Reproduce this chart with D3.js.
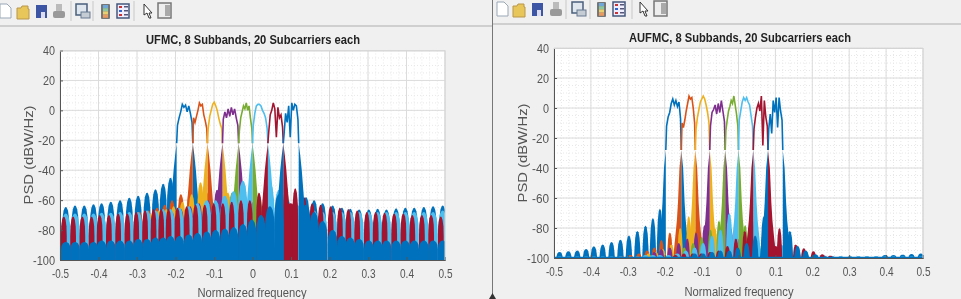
<!DOCTYPE html>
<html>
<head>
<meta charset="utf-8">
<script src="https://cdn.jsdelivr.net/npm/d3@7"></script>
<style>
  html, body { margin: 0; padding: 0; background: #f0f0f0; overflow: hidden; }
  svg { display: block; font-family: "Liberation Sans", Arial, sans-serif; filter: blur(0.4px); }
</style>
</head>
<body>
<div id="chart"></div>
<script>
const n = null;

const xTicks = [-0.5, -0.4, -0.3, -0.2, -0.1, 0, 0.1, 0.2, 0.3, 0.4, 0.5];
const yTicks = [40, 20, 0, -20, -40, -60, -80, -100];

// subband edges, shared by both plots
const subbandEdges = [-0.197, -0.155, -0.117, -0.078, -0.036, 0, 0.04, 0.08, 0.12];
const passFractions = [0.05, 0.15, 0.25, 0.35, 0.45, 0.55, 0.65, 0.75, 0.85, 0.95];

// frequencies of the sidelobe peaks
const lobeFreqs = [
  -0.485, -0.461, -0.437, -0.413, -0.392, -0.368, -0.344, -0.320, -0.297, -0.274,
  -0.252, -0.232, -0.213, -0.190, -0.166, -0.143, -0.119, -0.096, -0.072, -0.049,
  -0.025, -0.002, 0.022, 0.045, 0.069, 0.092, 0.116, 0.139, 0.160, 0.182,
  0.208, 0.232, 0.254, 0.277, 0.302, 0.325, 0.348, 0.373, 0.397, 0.420,
  0.445, 0.469, 0.494
];
const lobeShifts = [0, 0.004, 0.008, 0.004, -0.004, 0, -0.005, 0];
const lobeWidthsA = [0.0095, 0.0085, 0.0085, 0.0085, 0.0085, 0.012, 0.0075, 0.0125];
const lobeWidthsB = [0.009, 0.0075, 0.0075, 0.0075, 0.0075, 0.0095, 0.0075, 0.009];

// UFMC passband, one row per subband
const passA = [
  [-10, -5, -1, 4, 2, 3.5, -1, 3, -2, -8],
  [-5, -8, -4, 0, 5, 3, 4, -3, -7, -12],
  [-12, -4, 0, 4, 5.5, 3, 0, -5, -9, -12],
  [-6, -1, -5, 1, -4, 2, -3, 1, -5, -10],
  [-14, -5, -1, 3, 1, 5, 0, 3, -5, -12],
  [-10, -2, 3, 4, 4, 3, 0, -2, -5, -12],
  [-15, -3, 0, 5, 1, -18, 2, -5, -3, -11],
  [-16, -2, -8, 3, -18, 5, 0, 4, 3, -6]
];

// UFMC sidelobe peaks, one row per subband
const lobesA = [
  [-64.5, -63.6, -63.5, -62.7, -62, -61, -60, -58.4, -57, -55,
   -52.7, -49, -45, n, n, -60, -61, -62, -63, -64,
   -65, -66, -66, -67, -67, -66, -64, -58, -60, -62,
   -63.5, -65, -65.8, -66.2, -66.2, -65.8, -66.2, -65.5, -65, -65,
   -64.6, -64, -63.5],
  [n, n, n, n, n, n, n, n, -68, -67,
   -65, -63, -60, -56, -52, n, -55, -60, -64, -66,
   n, n, n, n, n, n, n, n, n, n,
   n, n, n, n, n, n, n, n, n, n,
   n, n, n],
  [n, n, n, n, n, n, n, n, n, -69,
   -67, -66, -64, -61, -56, -48, n, n, -55, -60,
   -64, n, n, n, n, n, n, n, n, n,
   n, n, n, n, n, n, n, n, n, n,
   n, n, n],
  [n, n, n, n, n, n, n, n, n, n,
   n, n, -68, -66, -64, -62, -60, -53, n, n,
   -56, -61, -64, -66, n, n, n, n, n, n,
   n, n, n, n, n, n, n, n, n, n,
   n, n, n],
  [n, n, n, n, n, n, n, n, n, n,
   n, n, n, n, n, n, -67, -65, -62, -55,
   n, n, -58, -64, -67, n, n, n, n, n,
   n, n, n, n, n, n, n, n, n, n,
   n, n, n],
  [-69, -69, -69, -69, -68.5, -68.5, -68, -68, -68, -67,
   -67, -66, -66, -65, -64, -62, -60, -60, -57, -54,
   -47, n, n, -48, -53, -60, -63, -66, -67, -68,
   -68, -68, -68, -68, -68, -68, -68, -68, -68, -68,
   -68, -68, -67],
  [-71, -71, -71, -71, -70, -70, -69, -69, -68, -67,
   -66, -66, -66, -65, -64, -63, -63, -62, -62, -61,
   -60, -60, -55, n, n, -50, -52, -58, -62, -63,
   -64, -65, -66, -67, -68, -68, -68.5, -69, -69, -70,
   -70, -70, -71],
  [-88, -88, -88, -88, -87, -87, -87, -87, -86, -86,
   -85, -85, -84, -84, -83, -82, -81, -80, -79, -78,
   -76, -73, -70, -64, -56, n, n, -63, -68, -74,
   -80, -84, -85, -86, -87, -87, -87, -87, -87, -87,
   -87, -87, -87]
];

// AUFMC passband, one row per subband
const passB = [
  [-12, -6, -3, 3, 6, 2, 5, 1, 4, -7],
  [-10, -13, -8, -2, 3, 8, 6, 7, 0, -10],
  [-14, -6, -1, 4, 6, 8, 6, 2, -3, -10],
  [-12, -3, -1, 2, -4, 3, -3, 5, -2, -9],
  [-15, -8, -2, 1, 5, 3, 8, 2, -4, -12],
  [-8, -2, 4, 7, 5, 7, 4, 2, -5, -12],
  [-14, -6, 0, 3, -2, 8, -25, 5, -6, -12],
  [-14, -4, -17, 5, -3, 7, -13, 7, -2, -8]
];

// AUFMC sidelobe peaks, one row per subband
const lobesB = [
  [-96, -95.5, -95, -94, -92.2, -91, -89.3, -87.8, -85, -82,
   -78.4, -73.3, -67, n, n, -83, -86, -88, -89, -90,
   -91, -92, -93, -93, -94, -94, -95, -95, -96, -97,
   -98, -98.5, -99, -99, -99, -99, -99, -99, -98, -98,
   -97.8, -97.4, -97],
  [n, n, n, n, n, n, n, -99, -98, -97,
   -95, -93, -88, -83, -77, n, -82, -88, -92, -94,
   -96, n, n, n, n, n, n, n, n, n,
   n, n, n, n, n, n, n, n, n, n,
   n, n, n],
  [n, n, n, n, n, n, n, n, n, n,
   -97, -96, -94, -91, -80, -72, n, n, -80, -88,
   -92, -95, n, n, n, n, n, n, n, n,
   n, n, n, n, n, n, n, n, n, n,
   n, n, n],
  [n, n, n, n, n, n, n, n, n, n,
   n, -96, -94, -93, -90, -87, -83, -78, n, n,
   -80, -87, -92, -95, n, n, n, n, n, n,
   n, n, n, n, n, n, n, n, n, n,
   n, n, n],
  [n, n, n, n, n, n, n, n, n, n,
   n, n, n, n, n, -93, -90, -86, -81, -75,
   n, n, -78, -85, -90, -94, n, n, n, n,
   n, n, n, n, n, n, n, n, n, n,
   n, n, n],
  [-99, -99, -99, -99, -99, -99, -99, -99, -99, -99,
   -98, -98, -98, -98, -97, -95, -93, -90, -85, -81,
   -70, n, n, -74, -82, -87, -91, -94, -96, -97,
   -99, -99, -99, -99, -99, -99, -99, -99, -99, -99,
   -99, -99, -99],
  [n, n, n, n, n, n, n, n, n, n,
   n, n, n, n, -98, -97, -97, -97, -96, -95,
   -92, -87, -82, n, n, -76, -80, -87, -91, -93.5,
   -95.5, -97.5, -98.5, n, n, n, n, n, n, n,
   n, n, n],
  [n, n, n, n, n, n, n, n, n, n,
   n, n, n, n, n, n, -97, -97, -96, -95,
   -95, -93, -90, -85, -72, n, n, -82, -92, -95,
   -97.5, n, n, n, n, n, n, n, n, n,
   n, n, n]
];

// skirts of each subband: level and distance from the band edge
const skirtPsdA = [-22, -30, -40, -60, -80, -100];
const skirtOffA = [0.0005, 0.004, 0.008, 0.014, 0.02, 0.026];
const skirtPsdB = [-28, -40, -63, -75, -90, -100];
const skirtOffB = [0.0005, 0.005, 0.009, 0.012, 0.018, 0.022];

const colors = ["#0072BD", "#D95319", "#EDB120", "#7E2F8E", "#77AC30", "#4DBEEE", "#A2142F", "#0072BD"];

// half a lobe from its foot to its tip, as fractions of lobe width and height
const lobeSideA = [[-1, 0], [-1, 0.55], [-0.9, 0.78], [-0.6, 0.93], [-0.25, 0.99], [0, 1]];
const lobeSideB = [[-1, 0], [-0.85, 0.4], [-0.65, 0.75], [-0.35, 0.95], [0, 1]];

const width = 961, height = 299;

const svg = d3.select("#chart")
  .append("svg")
  .attr("width", width)
  .attr("height", height);

svg.append("rect").attr("width", width).attr("height", height).attr("fill", "#f0f0f0");

// Toolbars
function drawToolbar(xs, seps, top, lineY) {
  const g = svg.append("g");
  g.append("line").attr("x1", xs.x0).attr("x2", xs.x1).attr("y1", lineY).attr("y2", lineY)
    .attr("stroke", "#c4c4c4").attr("stroke-width", 1.5);
  seps.forEach(s => g.append("line").attr("x1", s).attr("x2", s).attr("y1", top).attr("y2", top + 20)
    .attr("stroke", "#c8c8c8"));
  const t = top + 3;
  // new file
  g.append("path").attr("d", `M${xs.file} ${t}h7l4 4v10h-11z`).attr("fill", "#fff").attr("stroke", "#9aa7b5");
  // open folder
  g.append("path").attr("d", `M${xs.folder} ${t + 4}h4l1 -2h6v3h1v10h-12z`).attr("fill", "#e8c65a").attr("stroke", "#b8964a");
  // save
  g.append("rect").attr("x", xs.save).attr("y", t + 1).attr("width", 11).attr("height", 13).attr("fill", "#3c55a5");
  g.append("rect").attr("x", xs.save + 5).attr("y", t + 8).attr("width", 4).attr("height", 6).attr("fill", "#dde");
  // print
  g.append("rect").attr("x", xs.print + 3).attr("y", t).attr("width", 6).attr("height", 7).attr("fill", "#bbb");
  g.append("rect").attr("x", xs.print).attr("y", t + 7).attr("width", 12).attr("height", 7).attr("rx", 2).attr("fill", "#999");
  // linked figure
  g.append("rect").attr("x", xs.link).attr("y", t).attr("width", 11).attr("height", 11).attr("fill", "#dfe6ee").attr("stroke", "#4a5f7c").attr("stroke-width", 1.5);
  g.append("rect").attr("x", xs.link + 5).attr("y", t + 8).attr("width", 9).attr("height", 6).attr("fill", "#c5ccd4").attr("stroke", "#66788f");
  // colorbar
  const grad = ["#6fa7d8", "#8dc7a0", "#e8d070", "#e89a60"];
  g.append("rect").attr("x", xs.bar).attr("y", t).attr("width", 9).attr("height", 15).attr("rx", 1).attr("fill", "#777");
  grad.forEach((c, i) => g.append("rect").attr("x", xs.bar + 2).attr("y", t + 1 + i * 3.2).attr("width", 5).attr("height", 3.2).attr("fill", c));
  // legend
  g.append("rect").attr("x", xs.legend).attr("y", t).attr("width", 12).attr("height", 14).attr("fill", "#eef").attr("stroke", "#45577c").attr("stroke-width", 1.5);
  [[2, "#c33"], [6, "#36c"], [10, "#c33"]].forEach(d => g.append("rect").attr("x", xs.legend + 2).attr("y", t + d[0]).attr("width", 3).attr("height", 2).attr("fill", d[1]));
  [2, 6, 10].forEach(d => g.append("rect").attr("x", xs.legend + 7).attr("y", t + d).attr("width", 4).attr("height", 1.5).attr("fill", "#557"));
  // cursor
  g.append("path").attr("d", `M${xs.cursor} ${t}l8 9h-3l2 5h-2l-2 -5l-3 2z`).attr("fill", "#fff").attr("stroke", "#333");
  // property pane
  g.append("rect").attr("x", xs.pane).attr("y", t - 1).attr("width", 13).attr("height", 15).attr("fill", "#eee").attr("stroke", "#777").attr("stroke-width", 1.5);
  g.append("rect").attr("x", xs.pane + 7).attr("y", t + 1).attr("width", 5).attr("height", 11).attr("fill", "#aaa");
}

drawToolbar({ x0: 0, x1: 492, file: 0, folder: 17, save: 36, print: 53, link: 76, bar: 101, legend: 117, cursor: 144, pane: 158 },
  [71, 93, 134], 1, 26);
drawToolbar({ x0: 493, x1: 961, file: 497, folder: 513, save: 532, print: 550, link: 572, bar: 597, legend: 613, cursor: 640, pane: 654 },
  [566, 590, 632], -1, 24);

// window border between the two figures
svg.append("line").attr("x1", 492.5).attr("x2", 492.5).attr("y1", 0).attr("y2", 299).attr("stroke", "#777");
svg.append("path").attr("d", "M489 299l3.5 -6l3.5 6z").attr("fill", "#333");

function drawPanel(cfg, id) {
  const x = d3.scaleLinear().domain([-0.5, 0.5]).range([cfg.left, cfg.right]);
  const y = d3.scaleLinear().domain([-100, 40]).range([cfg.bottom, cfg.top]);
  const g = svg.append("g");

  g.append("rect")
    .attr("x", cfg.left).attr("y", cfg.top)
    .attr("width", cfg.right - cfg.left).attr("height", cfg.bottom - cfg.top)
    .attr("fill", "#fff");

  // Grid
  d3.range(-0.5, 0.5001, 0.02).forEach(f => g.append("line")
    .attr("x1", x(f)).attr("x2", x(f)).attr("y1", cfg.top).attr("y2", cfg.bottom)
    .attr("stroke", "#e8e8e8").attr("stroke-dasharray", "1,2"));
  d3.range(-100, 40.01, 5).forEach(v => g.append("line")
    .attr("x1", cfg.left).attr("x2", cfg.right).attr("y1", y(v)).attr("y2", y(v))
    .attr("stroke", "#e8e8e8").attr("stroke-dasharray", "1,2"));
  xTicks.forEach(f => g.append("line")
    .attr("x1", x(f)).attr("x2", x(f)).attr("y1", cfg.top).attr("y2", cfg.bottom)
    .attr("stroke", "#dcdcdc"));
  yTicks.forEach(v => g.append("line")
    .attr("x1", cfg.left).attr("x2", cfg.right).attr("y1", y(v)).attr("y2", y(v))
    .attr("stroke", "#dcdcdc"));

  svg.append("clipPath").attr("id", id)
    .append("rect")
    .attr("x", cfg.left).attr("y", cfg.top)
    .attr("width", cfg.right - cfg.left).attr("height", cfg.bottom - cfg.top + 1);

  const plot = g.append("g").attr("clip-path", `url(#${id})`);

  const lobeShape = cfg.lobeSide.concat(cfg.lobeSide.slice(0, -1).reverse().map(s => [-s[0], s[1]]));
  const lobe = (f, p, w) => d3.line()
    .x(s => x(f + s[0] * w))
    .y(s => y(-100 + s[1] * (p + 100)))(lobeShape);

  colors.forEach((color, k) => {
    const sub = plot.append("g");

    // sidelobes
    cfg.extra.filter(e => e.sub === k).forEach(e => sub.append("path")
      .attr("d", lobe(e.f, e.psd, e.w)).attr("fill", color));
    cfg.lobes[k].forEach((p, i) => {
      if (p === null) return;
      sub.append("path")
        .attr("d", lobe(lobeFreqs[i] + lobeShifts[k], p, cfg.widths[k]))
        .attr("fill", color);
    });

    // skirts on both band edges
    const lo = subbandEdges[k], hi = subbandEdges[k + 1];
    [[lo, -1], [hi, 1]].forEach(([edge, dir]) => {
      const pts = cfg.skirtPsd.map((p, i) => [edge + dir * cfg.skirtOff[i], p]);
      const poly = [[edge, -100], [edge, cfg.skirtPsd[0]]].concat(pts.slice(1));
      sub.append("path")
        .attr("d", d3.line().x(d => x(d[0])).y(d => y(d[1]))(poly) + "Z")
        .attr("fill", color);
    });

    // passband trace
    const trace = [[lo, cfg.skirtPsd[0]]]
      .concat(cfg.pass[k].map((p, i) => [lo + passFractions[i] * (hi - lo), p]))
      .concat([[hi, cfg.skirtPsd[0]]]);
    sub.append("path")
      .attr("d", d3.line().x(d => x(d[0])).y(d => y(d[1]))(trace))
      .attr("fill", "none")
      .attr("stroke", color)
      .attr("stroke-width", 1.6);
  });

  if (cfg.floor !== null) {
    plot.append("line")
      .attr("x1", x(-0.5)).attr("x2", x(0.5))
      .attr("y1", y(cfg.floor)).attr("y2", y(cfg.floor))
      .attr("stroke", colors[0]).attr("stroke-width", 1.5);
  }

  // Axes
  const xAxis = g.append("g")
    .attr("transform", `translate(0,${cfg.bottom})`)
    .call(d3.axisBottom(x).tickValues(xTicks).tickFormat(d => `${d}`).tickSize(-3).tickPadding(8));
  const yAxis = g.append("g")
    .attr("transform", `translate(${cfg.left},0)`)
    .call(d3.axisLeft(y).tickValues(yTicks).tickFormat(d => `${d}`).tickSize(-3).tickPadding(5));
  [xAxis, yAxis].forEach(a => {
    a.selectAll("text").attr("fill", "#555").style("font-size", "13.5px");
    a.selectAll("line").attr("stroke", "#555");
    a.select(".domain").attr("stroke", "#555");
  });
  xAxis.selectAll("text").attr("textLength", d => d < 0 ? 17 : (d === 0 ? 6 : 14)).attr("lengthAdjust", "spacingAndGlyphs");
  yAxis.selectAll("text").attr("textLength", d => (d === 0 ? 6 : (d === -100 ? 22 : (d < 0 ? 17 : 12)))).attr("lengthAdjust", "spacingAndGlyphs");

  // light box on the top and right
  g.append("line").attr("x1", cfg.left).attr("x2", cfg.right).attr("y1", cfg.top + 0.5).attr("y2", cfg.top + 0.5).attr("stroke", "#d4d4d4");
  g.append("line").attr("x1", cfg.right).attr("x2", cfg.right).attr("y1", cfg.top).attr("y2", cfg.bottom).attr("stroke", "#d4d4d4");

  // Labels
  g.append("text")
    .attr("x", cfg.titleX).attr("y", cfg.titleY)
    .attr("text-anchor", "middle")
    .attr("textLength", cfg.titleLen).attr("lengthAdjust", "spacingAndGlyphs")
    .style("font-size", "13px").style("font-weight", "bold").attr("fill", "#222")
    .text(cfg.title);
  g.append("text")
    .attr("x", cfg.labelX).attr("y", cfg.labelY)
    .attr("text-anchor", "middle")
    .attr("textLength", 109).attr("lengthAdjust", "spacingAndGlyphs")
    .style("font-size", "13px").attr("fill", "#555")
    .text("Normalized frequency");
  g.append("text")
    .attr("transform", `translate(${cfg.ylabelX},${cfg.ylabelY}) rotate(-90)`)
    .attr("text-anchor", "middle")
    .attr("textLength", 99).attr("lengthAdjust", "spacingAndGlyphs")
    .style("font-size", "13px").attr("fill", "#555")
    .text("PSD (dBW/Hz)");
}

drawPanel({
  left: 60, right: 445, top: 50.5, bottom: 260,
  title: "UFMC, 8 Subbands, 20 Subcarriers each", titleX: 253, titleY: 43.5, titleLen: 214,
  labelX: 252, labelY: 297, ylabelX: 33, ylabelY: 155,
  pass: passA, lobes: lobesA, widths: lobeWidthsA, lobeSide: lobeSideA,
  skirtPsd: skirtPsdA, skirtOff: skirtOffA,
  extra: [{ sub: 6, f: 0.099, psd: -62, w: 0.018 }],
  floor: null
}, "clipA");

drawPanel({
  left: 554, right: 923, top: 48, bottom: 258,
  title: "AUFMC, 8 Subbands, 20 Subcarriers each", titleX: 740, titleY: 41.7, titleLen: 222,
  labelX: 739, labelY: 296, ylabelX: 527, ylabelY: 153,
  pass: passB, lobes: lobesB, widths: lobeWidthsB, lobeSide: lobeSideB,
  skirtPsd: skirtPsdB, skirtOff: skirtOffB,
  extra: [{ sub: 6, f: 0.099, psd: -92, w: 0.016 }],
  floor: -99.6
}, "clipB");
</script>
</body>
</html>
